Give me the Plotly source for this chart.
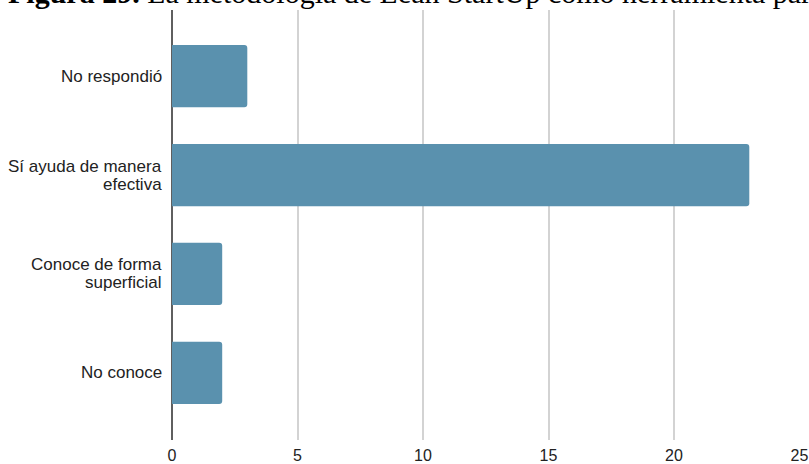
import plotly.graph_objects as go

# Survey responses: is Lean StartUp useful as a tool?
categories = [
    "No respondió",
    "Sí ayuda de manera<br>efectiva",
    "Conoce de forma<br>superficial",
    "No conoce",
]
counts = [3, 23, 2, 2]
x_ticks = [0, 5, 10, 15, 20, 25]
title_text = ("<b>Figura 29.</b> La metodología de Lean StartUp como herramienta "
              "para el emprendimiento")

W, H = 809, 464
left, right, top, bottom = 172, 9, 10, 24
label_size = 17
line_gap = 18

fig = go.Figure(
    go.Bar(
        y=categories,
        x=counts,
        orientation="h",
        marker=dict(color="#5a91ae", cornerradius=3, line=dict(width=0)),
        width=0.63,
        hoverinfo="x+y",
    )
)

# Category labels: one annotation per text line so the line spacing stays tight
annotations = []
for cat in categories:
    lines = cat.split("<br>")
    n = len(lines)
    for i, ln in enumerate(lines):
        annotations.append(dict(
            text=ln, xref="paper", yref="y", x=0, y=cat,
            xanchor="right", yanchor="middle",
            xshift=-8, yshift=((n - 1) / 2 - i) * line_gap,
            showarrow=False,
            font=dict(family="Liberation Sans, Arial, sans-serif",
                      size=label_size, color="#222222"),
        ))

annotations.append(dict(
    text=title_text,
    xref="paper", yref="paper",
    x=0, y=1,
    xanchor="left", yanchor="bottom",
    xshift=-left + 6, yshift=-1,
    showarrow=False,
    align="left",
    font=dict(family="Liberation Serif, Times New Roman, serif", size=30, color="#000000"),
))

fig.update_layout(
    width=W,
    height=H,
    margin=dict(l=left, r=right, t=top, b=bottom, pad=0),
    paper_bgcolor="white",
    plot_bgcolor="white",
    showlegend=False,
    font=dict(family="Liberation Sans, Arial, sans-serif", size=16, color="#222222"),
    xaxis=dict(
        range=[0, 25.02],
        tickvals=x_ticks,
        ticktext=[str(v) for v in x_ticks],
        showgrid=True,
        gridcolor="#d3d3d3",
        gridwidth=2,
        zeroline=True,
        zerolinecolor="#5f5f5f",
        zerolinewidth=2,
        showline=False,
        ticks="",
        ticklabelstandoff=4,
        automargin=False,
        tickfont=dict(size=16, color="#222222"),
    ),
    yaxis=dict(
        categoryorder="array",
        categoryarray=categories,
        range=[3.68, -0.67],
        showgrid=False,
        zeroline=False,
        showline=False,
        ticks="",
        showticklabels=False,
        automargin=False,
    ),
    annotations=annotations,
)

fig.write_html("out.html")
